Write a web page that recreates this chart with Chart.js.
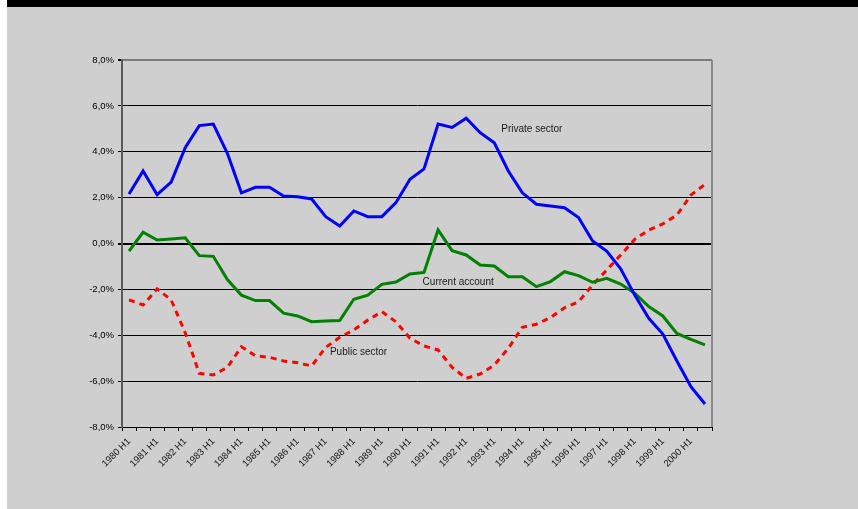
<!DOCTYPE html>
<html>
<head>
<meta charset="utf-8">
<script src="https://cdn.jsdelivr.net/npm/chart.js@4"></script>
<style>
  html, body { margin: 0; padding: 0; background: #ffffff; }
  #frame {
    position: absolute; left: 7px; top: 0; width: 851px; height: 502px;
    background: #cfcfcf; border-top: 7px solid #000;
  }
  #chart { position: absolute; left: 0; top: 0; }
</style>
</head>
<body>
<div id="frame"></div>
<canvas id="chart" width="858" height="509"></canvas>
<script>
// half-year periods
var periods = [
  "1980 H1", "1980 H2", "1981 H1", "1981 H2", "1982 H1", "1982 H2",
  "1983 H1", "1983 H2", "1984 H1", "1984 H2", "1985 H1", "1985 H2",
  "1986 H1", "1986 H2", "1987 H1", "1987 H2", "1988 H1", "1988 H2",
  "1989 H1", "1989 H2", "1990 H1", "1990 H2", "1991 H1", "1991 H2",
  "1992 H1", "1992 H2", "1993 H1", "1993 H2", "1994 H1", "1994 H2",
  "1995 H1", "1995 H2", "1996 H1", "1996 H2", "1997 H1", "1997 H2",
  "1998 H1", "1998 H2", "1999 H1", "1999 H2", "2000 H1", "2000 H2"
];

// balances, % of GDP
var privateSector = [
  2.16, 3.16, 2.13, 2.68, 4.18, 5.14, 5.21, 3.93, 2.21, 2.45, 2.45, 2.07,
  2.04, 1.94, 1.17, 0.76, 1.42, 1.17, 1.17, 1.78, 2.80, 3.25, 5.21, 5.06,
  5.46, 4.83, 4.39, 3.16, 2.21, 1.71, 1.63, 1.56, 1.13, 0.11, -0.33, -1.10,
  -2.25, -3.26, -3.95, -5.12, -6.24, -7.00
];
var currentAccount = [
  -0.33, 0.49, 0.15, 0.20, 0.25, -0.53, -0.56, -1.57, -2.25, -2.49, -2.49, -3.04,
  -3.16, -3.41, -3.38, -3.36, -2.43, -2.25, -1.78, -1.68, -1.33, -1.26, 0.59, -0.31,
  -0.50, -0.94, -0.98, -1.45, -1.45, -1.88, -1.66, -1.23, -1.40, -1.69, -1.52, -1.77,
  -2.17, -2.75, -3.16, -3.92, -4.18, -4.42
];
var publicSector = [
  -2.46, -2.68, -1.98, -2.46, -3.89, -5.66, -5.73, -5.40, -4.50, -4.90, -4.96, -5.12,
  -5.20, -5.34, -4.53, -4.09, -3.77, -3.34, -2.97, -3.41, -4.13, -4.47, -4.64, -5.40,
  -5.88, -5.69, -5.30, -4.57, -3.65, -3.52, -3.23, -2.80, -2.54, -1.81, -1.16, -0.50,
  0.18, 0.59, 0.85, 1.24, 2.11, 2.58
];

var yTicks = [-8, -6, -4, -2, 0, 2, 4, 6, 8];

// series name tags placed in data space: [text, category index, value]
var seriesTags = [
  ["Private sector", 26.5, 4.98],
  ["Current account", 20.9, -1.71],
  ["Public sector", 14.3, -4.72]
];

var FONT = "'Liberation Sans', Arial, sans-serif";

var extras = {
  id: "extras",
  afterDraw: function (chart) {
    var ctx = chart.ctx, area = chart.chartArea;
    var xs = chart.scales.x, ys = chart.scales.y;
    ctx.save();
    // right border of plot
    ctx.strokeStyle = "#8a8a8a";
    ctx.lineWidth = 2;
    ctx.beginPath();
    ctx.moveTo(area.right, area.top);
    ctx.lineTo(area.right, area.bottom);
    ctx.stroke();
    // series names
    ctx.fillStyle = "#1a1a1a";
    ctx.font = "10px " + FONT;
    ctx.textAlign = "left";
    ctx.textBaseline = "middle";
    seriesTags.forEach(function (t) {
      var px = xs.left + (t[1] + 0.5) * (xs.width / periods.length);
      ctx.fillText(t[0], px, ys.getPixelForValue(t[2]));
    });
    ctx.restore();
  }
};

new Chart(document.getElementById("chart"), {
  type: "line",
  data: {
    labels: periods,
    datasets: [
      {
        label: "Private sector",
        data: privateSector,
        borderColor: "#0000ff",
        borderWidth: 3,
        pointRadius: 0,
        tension: 0
      },
      {
        label: "Current account",
        data: currentAccount,
        borderColor: "#008000",
        borderWidth: 3,
        pointRadius: 0,
        tension: 0
      },
      {
        label: "Public sector",
        data: publicSector,
        borderColor: "#ff0000",
        borderWidth: 3,
        borderDash: [6, 5],
        pointRadius: 0,
        tension: 0
      }
    ]
  },
  options: {
    responsive: false,
    animation: false,
    layout: { padding: { left: 0, top: 60, right: 146, bottom: 0 } },
    plugins: {
      legend: { display: false },
      tooltip: { enabled: false }
    },
    scales: {
      x: {
        offset: true,
        grid: {
          offset: true,
          drawOnChartArea: false,
          drawTicks: true,
          tickLength: 4,
          color: "#000"
        },
        border: { color: "#000", width: 1 },
        ticks: {
          autoSkip: false,
          minRotation: 45,
          maxRotation: 45,
          padding: 5,
          color: "#111",
          font: { family: FONT, size: 9.5 },
          callback: function (v) {
            var l = this.getLabelForValue(v);
            return l.indexOf("H1") > 0 ? l : "";
          }
        },
        afterFit: function (s) { s.height = 82; }
      },
      y: {
        min: -8,
        max: 8,
        afterBuildTicks: function (s) {
          s.ticks = yTicks.map(function (v) { return { value: v }; });
        },
        grid: {
          color: function (c) { return c.tick && c.tick.value === 8 ? "#7a7a7a" : "#000"; },
          lineWidth: function (c) {
            if (!c.tick) return 1;
            return (c.tick.value === 0 || c.tick.value === 8) ? 2 : 1;
          },
          tickColor: "#000",
          tickLength: 4
        },
        border: { color: "#5a5a5a", width: 2 },
        ticks: {
          padding: 4,
          color: "#000",
          font: { family: FONT, size: 9.5 },
          callback: function (v) { return v.toFixed(1).replace(".", ",") + "%"; }
        },
        afterFit: function (s) { s.width = 122; }
      }
    }
  },
  plugins: [extras]
});
</script>
</body>
</html>
